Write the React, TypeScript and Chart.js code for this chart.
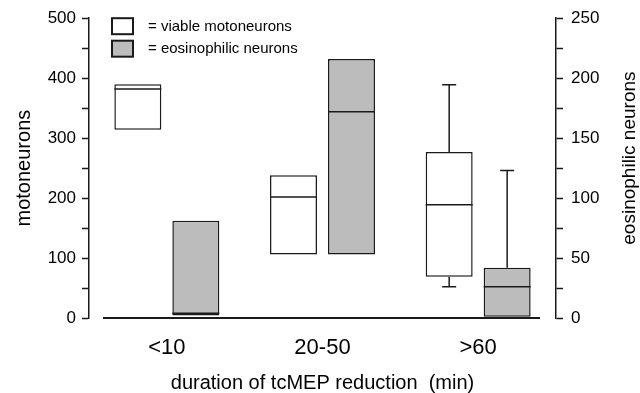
import React, { useEffect, useRef } from 'react';
import { Chart, registerables } from 'chart.js';

Chart.register(...registerables);

// ---- data ----
const categories = ['<10', '20-50', '>60'];

const viableQ1 = [314, 106, 69];
const viableQ3 = [390, 238, 277];
const viableMedian = [382, 202, 189];
const viableWhiskerLow: (number | null)[] = [null, null, 52];
const viableWhiskerHigh: (number | null)[] = [null, null, 389];

const eosinQ1 = [2, 53, 1];
const eosinQ3 = [81, 216, 42];
const eosinMedian = [4, 172, 26];
const eosinWhiskerLow: (number | null)[] = [null, null, null];
const eosinWhiskerHigh: (number | null)[] = [null, null, 123];

const leftTickLabels = [0, 100, 200, 300, 400, 500];
const rightTickLabels = [0, 50, 100, 150, 200, 250];

const legendLabels = ['= viable motoneurons', '= eosinophilic neurons'];

const boxStats = [
  { median: viableMedian, lo: viableWhiskerLow, hi: viableWhiskerHigh, q1: viableQ1, q3: viableQ3 },
  { median: eosinMedian, lo: eosinWhiskerLow, hi: eosinWhiskerHigh, q1: eosinQ1, q3: eosinQ3 },
];

const FONT = "'Liberation Sans', Arial, Helvetica, sans-serif";
const INK = '#1a1a1a';
const GRAY = '#bcbcbc';

const boxPlugin = {
  id: 'boxExtras',
  beforeDatasetsDraw(chart: any) {
    const { ctx, chartArea } = chart;
    const y0 = chart.scales.y.getPixelForValue(0);
    ctx.save();
    ctx.strokeStyle = INK;
    ctx.lineWidth = 2;
    ctx.beginPath();
    ctx.moveTo(chartArea.left + 14, y0);
    ctx.lineTo(chartArea.right - 16, y0);
    ctx.stroke();
    ctx.restore();
  },
  afterDatasetsDraw(chart: any) {
    const { ctx } = chart;
    ctx.save();
    ctx.strokeStyle = INK;
    ctx.lineWidth = 1.5;
    chart.data.datasets.forEach((ds: any, i: number) => {
      const meta = chart.getDatasetMeta(i);
      const ys = chart.scales[meta.yAxisID];
      const st = boxStats[i];
      meta.data.forEach((el: any, j: number) => {
        const { x, width } = el.getProps(['x', 'width'], true);
        const m = ys.getPixelForValue(st.median[j]);
        ctx.beginPath();
        ctx.moveTo(x - width / 2, m);
        ctx.lineTo(x + width / 2, m);
        ctx.stroke();
        const cap = 7;
        const hi = st.hi[j];
        if (hi != null) {
          const top = ys.getPixelForValue(st.q3[j]);
          const h = ys.getPixelForValue(hi);
          ctx.beginPath();
          ctx.moveTo(x, top);
          ctx.lineTo(x, h);
          ctx.moveTo(x - cap, h);
          ctx.lineTo(x + cap, h);
          ctx.stroke();
        }
        const lo = st.lo[j];
        if (lo != null) {
          const bot = ys.getPixelForValue(st.q1[j]);
          const l = ys.getPixelForValue(lo);
          ctx.beginPath();
          ctx.moveTo(x, bot);
          ctx.lineTo(x, l);
          ctx.moveTo(x - cap, l);
          ctx.lineTo(x + cap, l);
          ctx.stroke();
        }
      });
    });
    ctx.restore();
  },
  afterDraw(chart: any) {
    const { ctx, chartArea } = chart;
    ctx.save();
    // legend
    const fills = ['#ffffff', GRAY];
    legendLabels.forEach((t, i) => {
      const bx = chartArea.left + 23;
      const by = chartArea.top + i * 22.5;
      ctx.fillStyle = fills[i];
      ctx.fillRect(bx, by, 21, 16);
      ctx.strokeStyle = INK;
      ctx.lineWidth = 2;
      ctx.strokeRect(bx, by, 21, 16);
      ctx.fillStyle = '#000';
      ctx.font = `15px ${FONT}`;
      ctx.textBaseline = 'middle';
      ctx.textAlign = 'left';
      ctx.fillText(t, bx + 36, by + 8.5);
    });
    // right axis title (reads bottom-to-top)
    ctx.translate(634.5, (chartArea.top + chartArea.bottom) / 2 - 10);
    ctx.rotate(-Math.PI / 2);
    ctx.font = `19px ${FONT}`;
    ctx.textAlign = 'center';
    ctx.textBaseline = 'alphabetic';
    ctx.fillStyle = '#000';
    ctx.fillText('eosinophilic neurons', 0, 0);
    ctx.restore();
  },
};

export default function App() {
  const ref = useRef<HTMLCanvasElement>(null);
  useEffect(() => {
    if (!ref.current) return;
    Chart.defaults.font.family = FONT;
    Chart.defaults.color = '#000';
    const chart = new Chart(ref.current, {
      type: 'bar',
      data: {
        labels: categories,
        datasets: [
          {
            label: 'viable motoneurons',
            data: categories.map((_, i) => [viableQ1[i], viableQ3[i]]) as any,
            yAxisID: 'y',
            backgroundColor: '#ffffff',
            borderColor: INK,
            borderWidth: 1.5,
            borderSkipped: false,
            categoryPercentage: 0.745,
            barPercentage: 0.81,
          },
          {
            label: 'eosinophilic neurons',
            data: categories.map((_, i) => [eosinQ1[i], eosinQ3[i]]) as any,
            yAxisID: 'y1',
            backgroundColor: GRAY,
            borderColor: INK,
            borderWidth: 1.5,
            borderSkipped: false,
            categoryPercentage: 0.745,
            barPercentage: 0.81,
          },
        ],
      },
      options: {
        animation: false,
        responsive: false,
        layout: { padding: { top: 17, left: 0, right: 0, bottom: 0 } },
        plugins: { legend: { display: false }, tooltip: { enabled: false } },
        scales: {
          x: {
            type: 'category',
            offset: true,
            grid: { display: false, drawTicks: false },
            border: { display: false },
            ticks: { font: { size: 22 }, padding: 17, color: '#000' },
            title: {
              display: true,
              text: 'duration of tcMEP reduction  (min)',
              font: { size: 20, lineHeight: 1 },
              padding: { top: 0, bottom: 0 },
              color: '#000',
            },
            afterFit: (s: any) => { s.height = 75; },
          },
          y: {
            position: 'left',
            min: 0,
            max: 500,
            ticks: {
              stepSize: 50,
              font: { size: 17 },
              padding: 6,
              color: '#000',
              callback: (v: any) => (leftTickLabels.includes(Number(v)) ? String(v) : ''),
            },
            grid: { drawOnChartArea: false, tickLength: 7, tickColor: INK, tickWidth: 1.5 },
            border: { color: INK, width: 1.5 },
            title: {
              display: true,
              text: 'motoneurons',
              font: { size: 20 },
              padding: { top: 12, bottom: 0 },
              color: '#000',
            },
            afterFit: (s: any) => { s.width = 89; },
          },
          y1: {
            position: 'right',
            min: 0,
            max: 250,
            ticks: {
              stepSize: 25,
              font: { size: 17 },
              padding: 8,
              color: '#000',
              callback: (v: any) => (rightTickLabels.includes(Number(v)) ? String(v) : ''),
            },
            grid: { drawOnChartArea: false, tickLength: 7, tickColor: INK, tickWidth: 1.5 },
            border: { color: INK, width: 1.5 },
            afterFit: (s: any) => { s.width = 84; },
          },
        },
      },
      plugins: [boxPlugin],
    });
    return () => chart.destroy();
  }, []);
  return (
    <div style={{ position: 'absolute', left: 0, top: 0, width: 640, height: 393, background: '#fff' }}>
      <canvas ref={ref} width={640} height={393} style={{ display: 'block', width: 640, height: 393 }} />
    </div>
  );
}
